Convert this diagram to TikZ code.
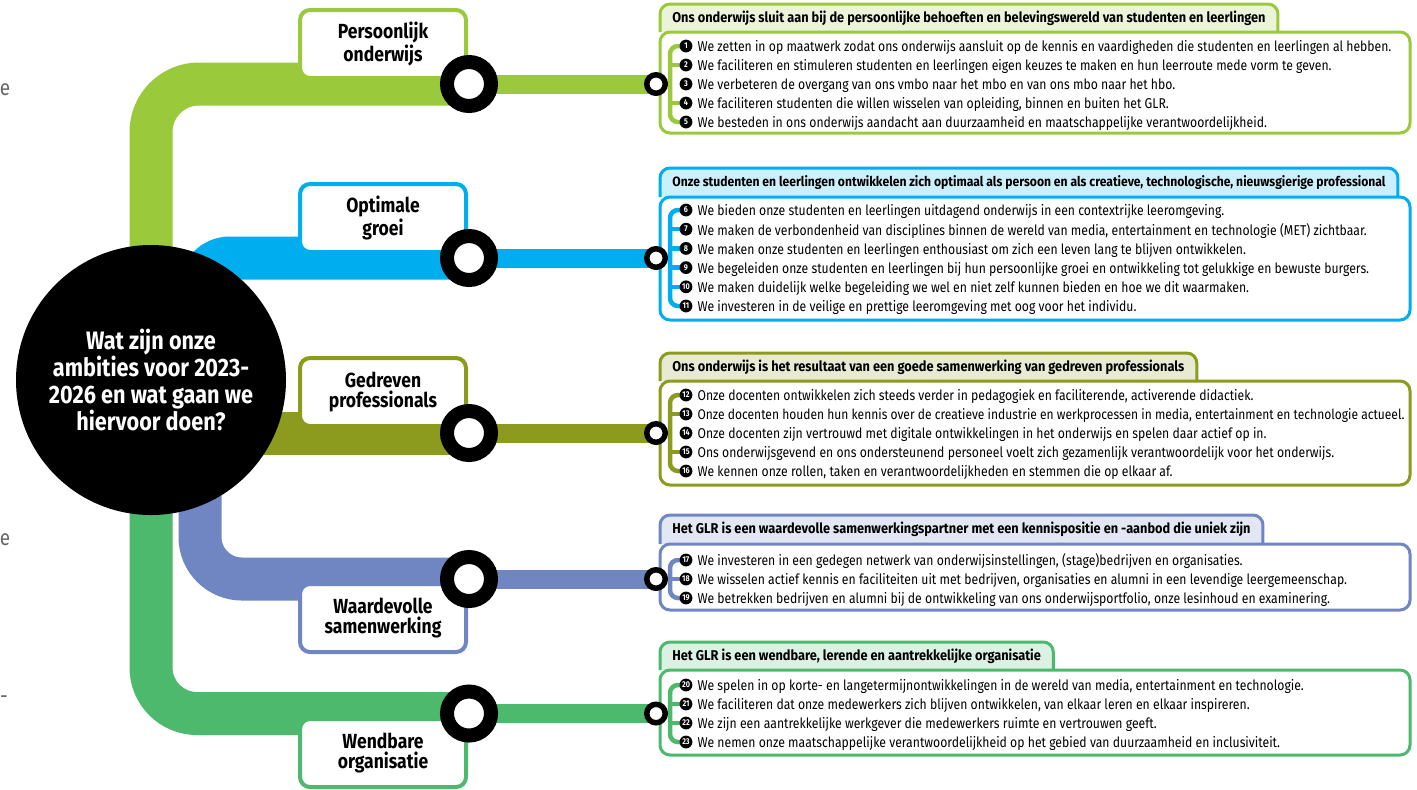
\documentclass[tikz,border=0pt]{standalone}
\usepackage{fontspec}
\setmainfont{Fira Sans}[FakeStretch=0.86]
\newfontfamily\kopfont{Fira Sans}[FakeStretch=0.9]
\usetikzlibrary{positioning, backgrounds}

\definecolor{persoonlijk}{RGB}{155,201,60}
\definecolor{groei}{RGB}{0,174,239}
\definecolor{gedreven}{RGB}{140,155,30}
\definecolor{samen}{RGB}{111,134,194}
\definecolor{wendbaar}{RGB}{76,185,109}

\tikzset{
  vraagbol/.style={circle, fill=black, text=white, minimum size=135pt, inner sep=0pt, align=center, font=\bfseries\fontsize{12.6}{13.5}\selectfont},
  etiket/.style={draw=#1, fill=white, line width=2pt, rounded corners=5pt, minimum width=83pt, minimum height=34pt, inner sep=0pt, align=center, font=\bfseries\fontsize{10.2}{9.6}\selectfont},
  station/.style={circle, draw=black, fill=white, line width=7pt, minimum size=22pt, inner sep=0pt},
  halte/.style={circle, draw=black, fill=white, line width=2.75pt, minimum size=9.25pt, inner sep=0pt},
  spoor/.style={draw=#1, line width=21.5pt},
  zijspoor/.style={draw=#1, line width=9.5pt},
  rail/.style={draw=#1, line width=2.25pt, rounded corners=4pt},
  tabblad/.style={draw=#1, fill=#1!20, line width=1.5pt, rounded corners=5pt},
  vak/.style={draw=#1, fill=white, line width=1.5pt, rounded corners=5pt},
  kop/.style={anchor=west, inner xsep=6pt, inner ysep=0pt, font=\kopfont\bfseries\fontsize{7.1}{8}\selectfont},
  bol/.style={circle, fill=black, text=white, minimum size=6.4pt, inner sep=0pt, font=\bfseries\fontsize{4.2}{4.5}\selectfont},
  punt/.style={inner sep=1pt, text height=1.55ex, text depth=0.45ex, font=\fontsize{7.1}{8}\selectfont},
  rand/.style={text=black!60, inner sep=0pt, font=\fontsize{11}{12}\selectfont}
}

\begin{document}
\begin{tikzpicture}[x=0.5pt, y=-0.5pt]
    \useasboundingbox (0,0) rectangle (1417,789);

    % Central question
    \node[vraagbol] (vraag) at (151,380) {Wat zijn onze\\ambities voor 2023-\\2026 en wat gaan we\\hiervoor doen?};

    % Cut-off text at the left margin
    \node[rand] (rand1) at (5,90) {e};
    \node[rand] (rand2) at (5,540) {e};
    \node[rand] (rand3) at (4,700) {-};

    % Line labels
    \node[etiket=persoonlijk] (lijn1) at (383,44) {Persoonlijk\\onderwijs};
    \node[etiket=groei] (lijn2) at (383,218) {Optimale\\groei};
    \node[etiket=gedreven] (lijn3) at (383,392) {Gedreven\\professionals};
    \node[etiket=samen] (lijn4) at (383,618) {Waardevolle\\samenwerking};
    \node[etiket=wendbaar] (lijn5) at (383,753) {Wendbare\\organisatie};

    % Big stations
    \node[station] (station1) at (469,84) {};
    \node[station] (station2) at (469,258) {};
    \node[station] (station3) at (469,433) {};
    \node[station] (station4) at (469,579) {};
    \node[station] (station5) at (469,713.5) {};

    % Small stations
    \node[halte] (halte1) at (656,84) {};
    \node[halte] (halte2) at (656,258) {};
    \node[halte] (halte3) at (656,433) {};
    \node[halte] (halte4) at (656,579) {};
    \node[halte] (halte5) at (656,713.5) {};

    % Bends and switches
    \coordinate (knik2) at (200,330);
    \coordinate (knik4) at (200,440);
    \coordinate (wissel1) at (670,84);
    \coordinate (wissel2) at (670,258);
    \coordinate (wissel3) at (670,433);
    \coordinate (wissel4) at (670,579);
    \coordinate (wissel5) at (670,713.5);

    % Headings
    \node[kop] (kop1) at (660,18) {Ons onderwijs sluit aan bij de persoonlijke behoeften en belevingswereld van studenten en leerlingen};
    \node[kop, font=\kopfont\bfseries\fontsize{6.75}{8}\selectfont] (kop2) at (660,182.5) {Onze studenten en leerlingen ontwikkelen zich optimaal als persoon en als creatieve, technologische, nieuwsgierige professional};
    \node[kop] (kop3) at (660,367.5) {Ons onderwijs is het resultaat van een goede samenwerking van gedreven professionals};
    \node[kop] (kop4) at (660,529.5) {Het GLR is een waardevolle samenwerkingspartner met een kennispositie en -aanbod die uniek zijn};
    \node[kop] (kop5) at (660,656.5) {Het GLR is een wendbare, lerende en aantrekkelijke organisatie};

    % Persoonlijk onderwijs
    \node[bol] (b1) at (686,46) {1};
    \node[punt, right=1.2pt of b1] (p1) {We zetten in op maatwerk zodat ons onderwijs aansluit op de kennis en vaardigheden die studenten en leerlingen al hebben.};
    \node[bol] (b2) at (686,65) {2};
    \node[punt, right=1.2pt of b2] (p2) {We faciliteren en stimuleren studenten en leerlingen eigen keuzes te maken en hun leerroute mede vorm te geven.};
    \node[bol] (b3) at (686,84) {3};
    \node[punt, right=1.2pt of b3] (p3) {We verbeteren de overgang van ons vmbo naar het mbo en van ons mbo naar het hbo.};
    \node[bol] (b4) at (686,103) {4};
    \node[punt, right=1.2pt of b4] (p4) {We faciliteren studenten die willen wisselen van opleiding, binnen en buiten het GLR.};
    \node[bol] (b5) at (686,122) {5};
    \node[punt, right=1.2pt of b5] (p5) {We besteden in ons onderwijs aandacht aan duurzaamheid en maatschappelijke verantwoordelijkheid.};

    % Optimale groei
    \node[bol] (b6) at (686,210) {6};
    \node[punt, right=1.2pt of b6] (p6) {We bieden onze studenten en leerlingen uitdagend onderwijs in een contextrijke leeromgeving.};
    \node[bol] (b7) at (686,229.2) {7};
    \node[punt, right=1.2pt of b7] (p7) {We maken de verbondenheid van disciplines binnen de wereld van media, entertainment en technologie (MET) zichtbaar.};
    \node[bol] (b8) at (686,248.4) {8};
    \node[punt, right=1.2pt of b8] (p8) {We maken onze studenten en leerlingen enthousiast om zich een leven lang te blijven ontwikkelen.};
    \node[bol] (b9) at (686,267.6) {9};
    \node[punt, right=1.2pt of b9] (p9) {We begeleiden onze studenten en leerlingen bij hun persoonlijke groei en ontwikkeling tot gelukkige en bewuste burgers.};
    \node[bol] (b10) at (686,286.8) {10};
    \node[punt, right=1.2pt of b10] (p10) {We maken duidelijk welke begeleiding we wel en niet zelf kunnen bieden en hoe we dit waarmaken.};
    \node[bol] (b11) at (686,306) {11};
    \node[punt, right=1.2pt of b11] (p11) {We investeren in de veilige en prettige leeromgeving met oog voor het individu.};

    % Gedreven professionals
    \node[bol] (b12) at (686,395) {12};
    \node[punt, right=1.2pt of b12] (p12) {Onze docenten ontwikkelen zich steeds verder in pedagogiek en faciliterende, activerende didactiek.};
    \node[bol] (b13) at (686,414) {13};
    \node[punt, right=1.2pt of b13, font=\fontsize{7.0}{8}\selectfont] (p13) {Onze docenten houden hun kennis over de creatieve industrie en werkprocessen in media, entertainment en technologie actueel.};
    \node[bol] (b14) at (686,433) {14};
    \node[punt, right=1.2pt of b14] (p14) {Onze docenten zijn vertrouwd met digitale ontwikkelingen in het onderwijs en spelen daar actief op in.};
    \node[bol] (b15) at (686,452) {15};
    \node[punt, right=1.2pt of b15] (p15) {Ons onderwijsgevend en ons ondersteunend personeel voelt zich gezamenlijk verantwoordelijk voor het onderwijs.};
    \node[bol] (b16) at (686,471) {16};
    \node[punt, right=1.2pt of b16] (p16) {We kennen onze rollen, taken en verantwoordelijkheden en stemmen die op elkaar af.};

    % Waardevolle samenwerking
    \node[bol] (b17) at (686,560) {17};
    \node[punt, right=1.2pt of b17] (p17) {We investeren in een gedegen netwerk van onderwijsinstellingen, (stage)bedrijven en organisaties.};
    \node[bol] (b18) at (686,579) {18};
    \node[punt, right=1.2pt of b18] (p18) {We wisselen actief kennis en faciliteiten uit met bedrijven, organisaties en alumni in een levendige leergemeenschap.};
    \node[bol] (b19) at (686,598) {19};
    \node[punt, right=1.2pt of b19] (p19) {We betrekken bedrijven en alumni bij de ontwikkeling van ons onderwijsportfolio, onze lesinhoud en examinering.};

    % Wendbare organisatie
    \node[bol] (b20) at (686,685) {20};
    \node[punt, right=1.2pt of b20] (p20) {We spelen in op korte- en langetermijnontwikkelingen in de wereld van media, entertainment en technologie.};
    \node[bol] (b21) at (686,704) {21};
    \node[punt, right=1.2pt of b21] (p21) {We faciliteren dat onze medewerkers zich blijven ontwikkelen, van elkaar leren en elkaar inspireren.};
    \node[bol] (b22) at (686,723) {22};
    \node[punt, right=1.2pt of b22] (p22) {We zijn een aantrekkelijke werkgever die medewerkers ruimte en vertrouwen geeft.};
    \node[bol] (b23) at (686,742) {23};
    \node[punt, right=1.2pt of b23] (p23) {We nemen onze maatschappelijke verantwoordelijkheid op het gebied van duurzaamheid en inclusiviteit.};

    \begin{scope}[on background layer]
        % Heading tabs
        \draw[tabblad=persoonlijk] (660,32) |- (kop1.east |- 0,4) -- (kop1.east |- 0,32);
        \draw[tabblad=groei] (660,197) |- (kop2.east |- 0,168) -- (kop2.east |- 0,197);
        \draw[tabblad=gedreven] (660,381) |- (kop3.east |- 0,353) -- (kop3.east |- 0,381);
        \draw[tabblad=samen] (660,544) |- (kop4.east |- 0,515) -- (kop4.east |- 0,544);
        \draw[tabblad=wendbaar] (660,670) |- (kop5.east |- 0,642) -- (kop5.east |- 0,670);

        % Boxes
        \draw[vak=persoonlijk] (660,32) rectangle (1410,133);
        \draw[vak=groei] (660,197) rectangle (1410,320);
        \draw[vak=gedreven] (660,381) rectangle (1410,485);
        \draw[vak=samen] (660,544) rectangle (1410,610);
        \draw[vak=wendbaar] (660,670) rectangle (1410,755);

        % Main lines
        \draw[spoor=persoonlijk, rounded corners=24pt] (vraag.center) |- (station1.center);
        \draw[spoor=groei, rounded corners=15pt] (knik2) |- (station2.center);
        \draw[spoor=gedreven] (vraag.center |- station3.center) -- (station3.center);
        \draw[spoor=samen, rounded corners=21pt] (knik4) |- (station4.center);
        \draw[spoor=wendbaar, rounded corners=23pt] (vraag.center) |- (station5.center);

        % Branch lines
        \draw[zijspoor=persoonlijk] (station1.center) -- (halte1.center);
        \draw[zijspoor=groei] (station2.center) -- (halte2.center);
        \draw[zijspoor=gedreven] (station3.center) -- (halte3.center);
        \draw[zijspoor=samen] (station4.center) -- (halte4.center);
        \draw[zijspoor=wendbaar] (station5.center) -- (halte5.center);

        % Rails to the points
        \draw[rail=persoonlijk] (halte1.center) -- (wissel1);
        \draw[rail=persoonlijk] (b1.center) -| (wissel1) |- (b5.center);
        \draw[rail=persoonlijk] (wissel1 |- b2) -- (b2.center);
        \draw[rail=persoonlijk] (wissel1 |- b4) -- (b4.center);

        \draw[rail=groei] (halte2.center) -- (wissel2);
        \draw[rail=groei] (b6.center) -| (wissel2) |- (b11.center);
        \draw[rail=groei] (wissel2 |- b7) -- (b7.center);
        \draw[rail=groei] (wissel2 |- b8) -- (b8.center);
        \draw[rail=groei] (wissel2 |- b9) -- (b9.center);
        \draw[rail=groei] (wissel2 |- b10) -- (b10.center);

        \draw[rail=gedreven] (halte3.center) -- (wissel3);
        \draw[rail=gedreven] (b12.center) -| (wissel3) |- (b16.center);
        \draw[rail=gedreven] (wissel3 |- b13) -- (b13.center);
        \draw[rail=gedreven] (wissel3 |- b15) -- (b15.center);

        \draw[rail=samen] (halte4.center) -- (wissel4);
        \draw[rail=samen] (b17.center) -| (wissel4) |- (b19.center);
        \draw[rail=samen] (wissel4 |- b18) -- (b18.center);

        \draw[rail=wendbaar] (halte5.center) -- (wissel5);
        \draw[rail=wendbaar] (b20.center) -| (wissel5) |- (b23.center);
        \draw[rail=wendbaar] (wissel5 |- b21) -- (b21.center);
        \draw[rail=wendbaar] (wissel5 |- b22) -- (b22.center);
    \end{scope}

\end{tikzpicture}
\end{document}
